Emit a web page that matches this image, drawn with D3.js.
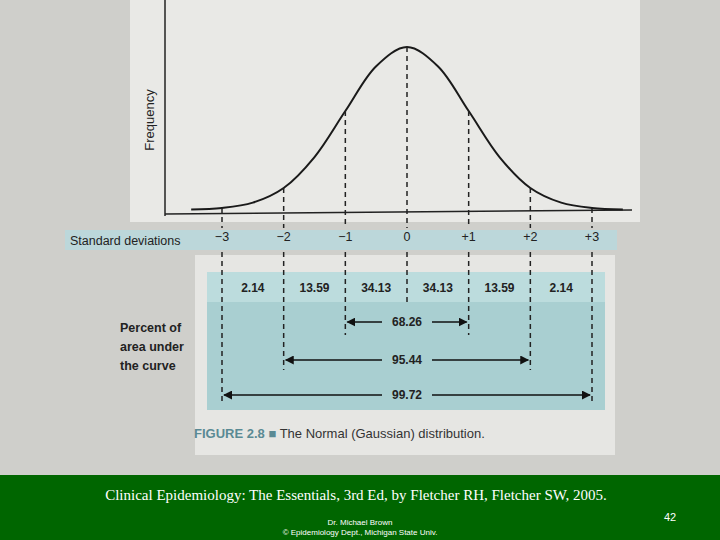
<!DOCTYPE html>
<html><head><meta charset="utf-8">
<script src="https://cdn.jsdelivr.net/npm/d3@7"></script>
<style>body{margin:0;background:#fff}svg{display:block}</style>
</head><body><svg id="c" width="720" height="540"></svg>
<script>
const sdTicks = [-3,-2,-1,0,1,2,3];
const sdLabels = ["\u22123","\u22122","\u22121","0","+1","+2","+3"];
const percents = ["2.14","13.59","34.13","34.13","13.59","2.14"];
const curveX = [-3.5,-3,-2.5,-2,-1.5,-1,-0.5,0,0.5,1,1.5,2,2.5,3,3.5];
const curveY = [0.003,0.012,0.045,0.135,0.325,0.607,0.882,1,0.882,0.607,0.325,0.135,0.045,0.012,0.003];
const ranges = [{label:"68.26",from:-1,to:1},{label:"95.44",from:-2,to:2},{label:"99.72",from:-3,to:3}];

const svg = d3.select("#c");
const x = d3.scaleLinear().domain([-3,3]).range([222,592]);
const y = d3.scaleLinear().domain([0,1]).range([210,47]);

svg.append("rect").attr("width",720).attr("height",475).attr("fill","#cfcfcb");
svg.append("rect").attr("x",130).attr("y",0).attr("width",510).attr("height",222).attr("fill","#e9e9e6");
svg.append("rect").attr("x",195).attr("y",255).attr("width",420).attr("height",200).attr("fill","#e6e6e3");

svg.append("line").attr("x1",165).attr("x2",165).attr("y1",0).attr("y2",216).attr("stroke","#222").attr("stroke-width",1.5);
svg.append("line").attr("x1",165).attr("x2",632).attr("y1",214).attr("y2",210).attr("stroke","#222").attr("stroke-width",1.5);
svg.append("text").attr("transform","translate(154,120) rotate(-90)").attr("text-anchor","middle")
  .attr("font-family","Liberation Sans, Arial").attr("font-size",13).attr("fill","#222").text("Frequency");

const line = d3.line().x((d,i)=>x(curveX[i])).y(d=>y(d)).curve(d3.curveCatmullRom);
svg.append("path").datum(curveY).attr("d",line).attr("fill","none").attr("stroke","#1a1a1a").attr("stroke-width",2);

svg.append("rect").attr("x",65).attr("y",230).attr("width",552).attr("height",20).attr("fill","#bcd7da");
svg.append("text").attr("x",70).attr("y",245).attr("font-family","Liberation Sans, Arial").attr("font-size",12.5).attr("fill","#222").text("Standard deviations");
svg.selectAll(".sdl").data(sdTicks).join("text").attr("x",d=>x(d)).attr("y",241)
  .attr("text-anchor","middle").attr("font-family","Liberation Sans, Arial").attr("font-size",12.5).attr("fill","#222")
  .text((d,i)=>sdLabels[i]);

svg.append("rect").attr("x",207).attr("y",272).attr("width",398).attr("height",138).attr("fill","#a9cfd1");
svg.append("rect").attr("x",207).attr("y",272).attr("width",398).attr("height",30).attr("fill","#bcdcdd");

const dash = sel => sel.attr("stroke","#222").attr("stroke-width",1.5).attr("stroke-dasharray","5,4");
svg.selectAll(".dl").data(sdTicks).join("line")
  .attr("x1",d=>x(d)).attr("x2",d=>x(d)).attr("y1",d=>y(curveY[curveX.indexOf(d)]))
  .attr("y2",228).call(dash);
svg.selectAll(".dl2").data(sdTicks).join("line")
  .attr("x1",d=>x(d)).attr("x2",d=>x(d)).attr("y1",252)
  .attr("y2",d=>Math.abs(d)===3?405:(Math.abs(d)===2?370:(d===0?302:335))).call(dash);

svg.selectAll(".pc").data(percents).join("text").attr("x",(d,i)=>x(sdTicks[i]+0.5)).attr("y",292)
  .attr("text-anchor","middle").attr("font-family","Liberation Sans, Arial").attr("font-weight","bold")
  .attr("font-size",12).attr("fill","#222").text(d=>d);

svg.append("text").attr("font-family","Liberation Sans, Arial").attr("font-weight","bold").attr("font-size",12.5).attr("fill","#222")
  .selectAll("tspan").data(["Percent of","area under","the curve"]).join("tspan").attr("x",120).attr("y",(d,i)=>332+i*19).text(d=>d);

const defs = svg.append("defs");
defs.append("marker").attr("id","ah").attr("viewBox","0 0 10 10").attr("refX",9).attr("refY",5)
  .attr("markerWidth",6).attr("markerHeight",6).attr("orient","auto-start-reverse")
  .append("path").attr("d","M0,0L10,5L0,10z").attr("fill","#111");
const ry = [322,360,395];
ranges.forEach((r,i)=>{
  const cx = x(0);
  svg.append("text").attr("x",cx).attr("y",ry[i]+4).attr("text-anchor","middle").attr("font-family","Liberation Sans, Arial")
    .attr("font-weight","bold").attr("font-size",12).attr("fill","#222").text(r.label);
  svg.append("line").attr("x1",cx-25).attr("x2",x(r.from)+2).attr("y1",ry[i]).attr("y2",ry[i]).attr("stroke","#111").attr("stroke-width",1.5).attr("marker-end","url(#ah)");
  svg.append("line").attr("x1",cx+25).attr("x2",x(r.to)-2).attr("y1",ry[i]).attr("y2",ry[i]).attr("stroke","#111").attr("stroke-width",1.5).attr("marker-end","url(#ah)");
});

svg.append("text").attr("x",194).attr("y",438).attr("font-family","Liberation Sans, Arial").attr("font-size",13).attr("fill","#5a8a94")
  .html('<tspan font-weight="bold">FIGURE 2.8</tspan><tspan> \u25A0 </tspan><tspan fill="#333">The Normal (Gaussian) distribution.</tspan>');

svg.append("rect").attr("x",0).attr("y",475).attr("width",720).attr("height",65).attr("fill","#006600");
svg.append("text").attr("x",356).attr("y",500).attr("text-anchor","middle").attr("font-family","Liberation Serif, Times New Roman")
  .attr("font-size",15).attr("fill","#fff").text("Clinical Epidemiology: The Essentials, 3rd Ed, by Fletcher RH, Fletcher SW, 2005.");
svg.append("text").attr("x",360).attr("y",525).attr("text-anchor","middle").attr("font-family","Liberation Sans, Arial").attr("font-size",8).attr("fill","#fff").text("Dr. Michael Brown");
svg.append("text").attr("x",360).attr("y",535).attr("text-anchor","middle").attr("font-family","Liberation Sans, Arial").attr("font-size",8).attr("fill","#fff").text("\u00A9 Epidemiology Dept., Michigan State Univ.");
svg.append("text").attr("x",670).attr("y",521).attr("text-anchor","middle").attr("font-family","Liberation Sans, Arial").attr("font-size",11).attr("fill","#fff").text("42");
</script></body></html>
